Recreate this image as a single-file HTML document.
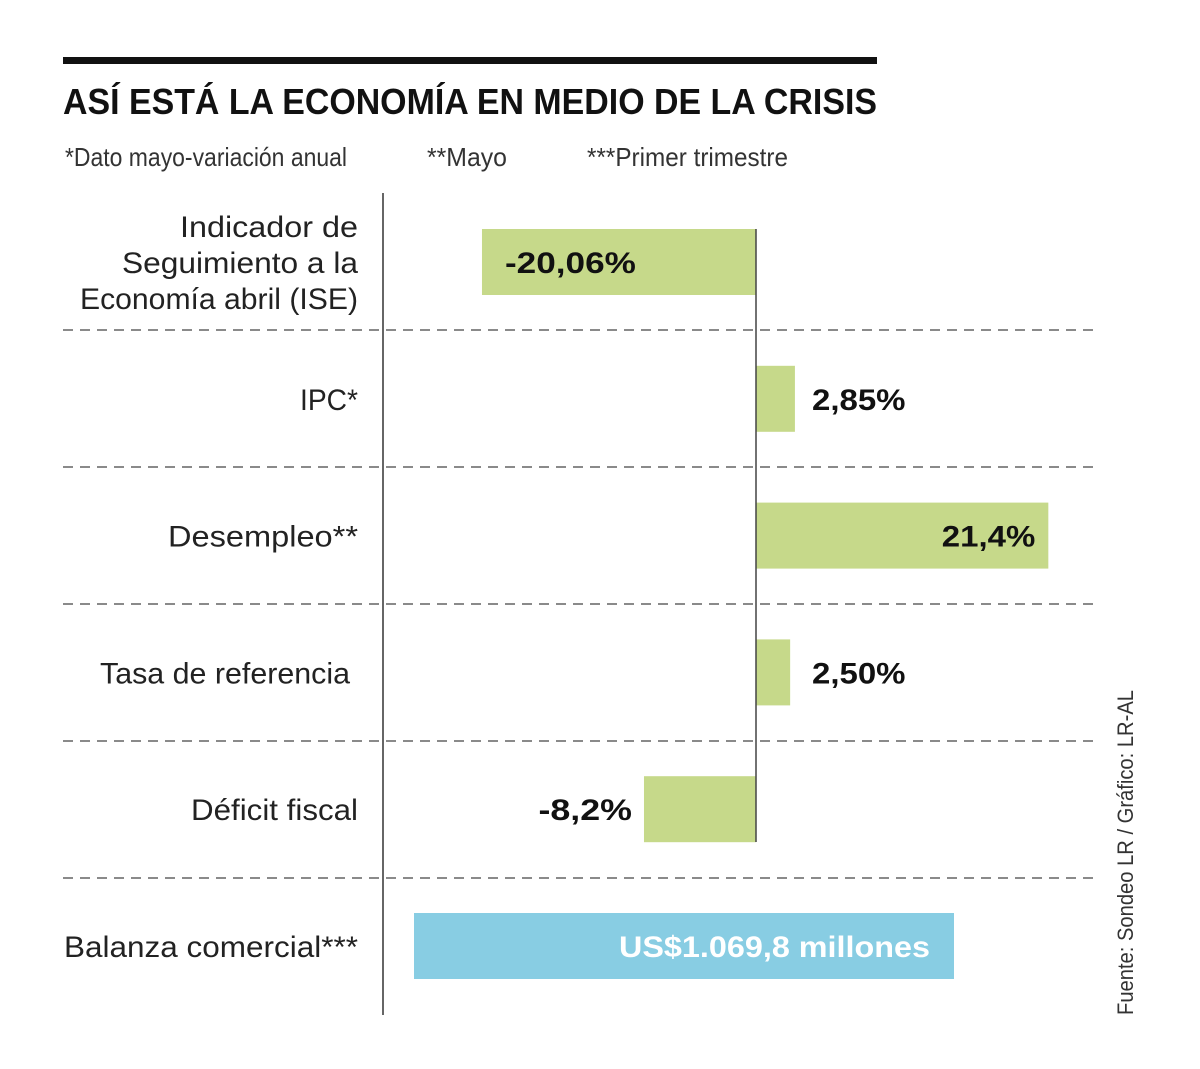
<!DOCTYPE html>
<html><head><meta charset="utf-8"><style>
html,body{margin:0;padding:0;background:#fff;}
svg{display:block;font-family:"Liberation Sans",sans-serif;}
</style></head><body>
<svg width="1200" height="1069" viewBox="0 0 1200 1069">
<rect x="63" y="57" width="814" height="7" fill="#111"/>
<text x="63" y="114" font-size="36" font-weight="bold" fill="#111" textLength="814" lengthAdjust="spacingAndGlyphs">ASÍ ESTÁ LA ECONOMÍA EN MEDIO DE LA CRISIS</text>
<g font-size="26" fill="#333">
<text x="65" y="166" textLength="282" lengthAdjust="spacingAndGlyphs">*Dato mayo-variación anual</text>
<text x="427" y="166" textLength="80" lengthAdjust="spacingAndGlyphs">**Mayo</text>
<text x="587" y="166" textLength="201" lengthAdjust="spacingAndGlyphs">***Primer trimestre</text>
</g>
<line x1="383" y1="193" x2="383" y2="1015" stroke="#333" stroke-width="1.5"/>
<g id="grid"></g>
<g id="bars"></g>
<line id="zero" x1="756" y1="229" x2="756" y2="842" stroke="#444" stroke-width="1.5"/>
<g id="labels" font-size="30" fill="#222"></g>
<text transform="translate(1133,1015) rotate(-90)" font-size="22" fill="#333" textLength="325" lengthAdjust="spacingAndGlyphs">Fuente: Sondeo LR / Gráfico: LR-AL</text>
</svg>
<script>
const categories = ["ISE","IPC*","Desempleo**","Tasa de referencia","Déficit fiscal"];
const values = [-20.06, 2.85, 21.4, 2.50, -8.2];
const valueLabels = ["-20,06%","2,85%","21,4%","2,50%","-8,2%"];
const balanzaLabel = "US$1.069,8 millones";
const NS="http://www.w3.org/2000/svg";
const x0=756, scale=13.66, rowTop=229, rowStep=136.8, barH=66;
const xs=v=>x0+v*scale;
function mk(tag,attrs,parent){const e=document.createElementNS(NS,tag);for(const k in attrs)e.setAttribute(k,attrs[k]);parent.appendChild(e);return e;}
const grid=document.getElementById('grid'),bars=document.getElementById('bars'),labels=document.getElementById('labels');
for(let i=0;i<5;i++){
  const y=330+i*137;
  const l=mk('line',{x1:63,y1:y,x2:1100,y2:y,stroke:'#444','stroke-width':1.3,'stroke-dasharray':'10,7'},grid);
  
  
}
const catLines=[[["Indicador de",180],["Seguimiento a la",122],["Economía abril (ISE)",80]],[["IPC*",300]],[["Desempleo**",168]],[["Tasa de referencia",100]],[["Déficit fiscal",191]]];
const catRight=[358,358,358,350,358];
values.forEach((v,i)=>{
  const y=rowTop+i*rowStep;
  const a=Math.min(xs(v),x0),b=Math.max(xs(v),x0);
  const r=mk('rect',{x:a,y:y,width:b-a,height:barH,fill:'#c6d98a'},bars);
  
  
  const cy=y+barH/2;
  const lines=catLines[i];
  lines.forEach((ln,j)=>{
    const ty=cy+11+(j-(lines.length-1)/2)*36;
    const t=mk('text',{x:catRight[i],y:ty,'text-anchor':'end',textLength:catRight[i]-ln[1],lengthAdjust:'spacingAndGlyphs'},labels);
    t.textContent=ln[0];
    
    
  });
  let tx,anchor;
  const w=b-a;
  if(v<0){ if(w>200){tx=a+23;anchor='start';}else{tx=a-12;anchor='end';} }
  else { if(w>150){tx=b-13;anchor='end';}else{tx=x0+56;anchor='start';} }
  const tl=valueLabels[i].length*18.7;
  const vt=mk('text',{x:tx,y:cy+11,'text-anchor':anchor,'font-weight':'bold',fill:'#111',textLength:tl,lengthAdjust:'spacingAndGlyphs'},labels);
  vt.textContent=valueLabels[i];
  
  
});
const by=913;
const br=mk('rect',{x:414,y:by,width:540,height:66,fill:'#88cde3'},bars);


const bl=mk('text',{x:358,y:by+44,'text-anchor':'end',textLength:294,lengthAdjust:'spacingAndGlyphs'},labels);
bl.textContent="Balanza comercial***";


const bv=mk('text',{x:930,y:by+44,'text-anchor':'end','font-weight':'bold',fill:'#fff',textLength:311,lengthAdjust:'spacingAndGlyphs'},labels);
bv.textContent=balanzaLabel;


</script>
</body></html>
